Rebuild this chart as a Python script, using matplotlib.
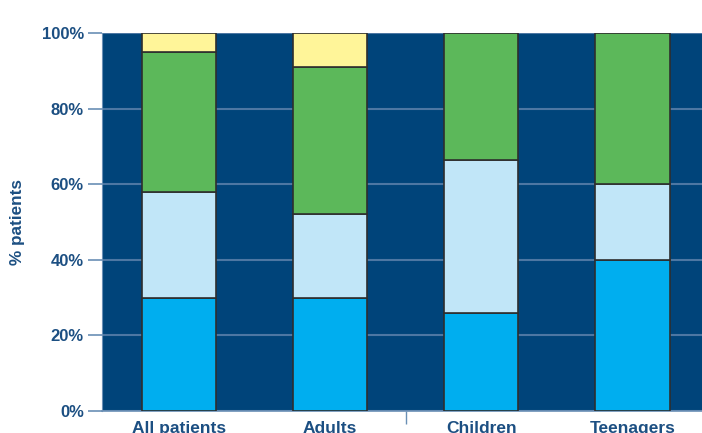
import matplotlib.pyplot as plt
import numpy as np

# stacked shares (% of patients), bottom to top
groups = ['All patients', 'Adults', 'Children', 'Teenagers']
seg1 = [30, 30, 26, 40]
seg2 = [28, 22, 40.5, 20]
seg3 = [37, 39, 33.5, 40]
seg4 = [5, 9, 0, 0]
yticks = [0, 20, 40, 60, 80, 100]

seg_colors = ['#00aeef', '#c1e6f8', '#5cb85a', '#fff599']
navy = '#00447a'
txt = '#1c4f82'
grid_c = '#4d77a3'

plt.rcParams['font.family'] = ['Liberation Sans', 'DejaVu Sans']

fig = plt.figure(figsize=(7.02, 4.33), dpi=100)
ax = fig.add_axes([102 / 702, 22 / 433, 1 - 102 / 702, 378 / 433])
ax.set_facecolor(navy)

x = np.arange(len(groups))
bottom = np.zeros(len(groups))
for vals, col in zip([seg1, seg2, seg3, seg4], seg_colors):
    vals = np.array(vals, dtype=float)
    mask = vals > 0
    ax.bar(x[mask], vals[mask], bottom=bottom[mask], width=0.49, color=col,
           edgecolor='#2e2e2e', linewidth=1.2, zorder=3)
    bottom += vals

ax.set_xlim(-0.51, 3.46)
ax.set_ylim(0, 100)
ax.set_yticks(yticks)
ax.set_yticklabels([f'{v}%' for v in yticks], fontsize=12, fontweight='bold', color=txt)
ax.tick_params(axis='y', length=10, width=1.2, color='#6a8fb5', pad=3)
ax.yaxis.grid(True, color=grid_c, linewidth=1.5, zorder=1)

ax.set_xticks(x)
ax.set_xticklabels(groups, fontsize=12.5, fontweight='bold', color=txt)
ax.tick_params(axis='x', length=0, pad=7)
ax.set_xticks([1.5], minor=True)
ax.tick_params(axis='x', which='minor', length=9, width=1, color='#6a8fb5')

for s in ['top', 'right']:
    ax.spines[s].set_visible(False)
ax.spines['left'].set_color('#6a8fb5')
ax.spines['bottom'].set_color('#6a8fb5')
ax.spines['bottom'].set_linewidth(1.2)

fig.text(18 / 702, 1 - 222 / 433, '% patients', rotation=90, ha='center', va='center',
         fontsize=12.3, fontweight='bold', color=txt)

fig.savefig('out.png', dpi=100)
